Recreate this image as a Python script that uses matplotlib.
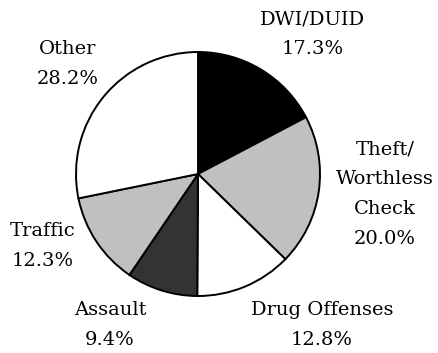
import matplotlib
matplotlib.use("Agg")
import matplotlib.pyplot as plt

# offense shares, clockwise from 12 o'clock
categories = ["DWI/DUID", "Theft/\nWorthless\nCheck", "Drug Offenses",
              "Assault", "Traffic", "Other"]
shares = [17.3, 20.0, 12.8, 9.4, 12.3, 28.2]
colors = ["#000000", "#c0c0c0", "#ffffff", "#333333", "#c0c0c0", "#ffffff"]

# label anchor points in pixel space (x, y from top)
label_pos = [(313, 34), (385, 194), (322, 325), (110, 325), (43, 246), (68, 64)]

W, H = 439, 353
fig = plt.figure(figsize=(W / 100, H / 100), dpi=100)
ax = fig.add_axes([0, 0, 1, 1])

cx, cy, r = 198, H - 174, 122
ax.pie(shares, colors=colors, startangle=90, counterclock=False,
       center=(cx, cy), radius=r, frame=True,
       wedgeprops=dict(edgecolor="black", linewidth=1.4))

for name, val, (px, py) in zip(categories, shares, label_pos):
    ax.text(px, H - py, f"{name}\n{val:.1f}%", ha="center", va="center",
            fontsize=14, family="DejaVu Serif", linespacing=1.85)

ax.set_xlim(0, W)
ax.set_ylim(0, H)
ax.set_aspect("equal")
ax.axis("off")

fig.savefig("out.png", dpi=100)
